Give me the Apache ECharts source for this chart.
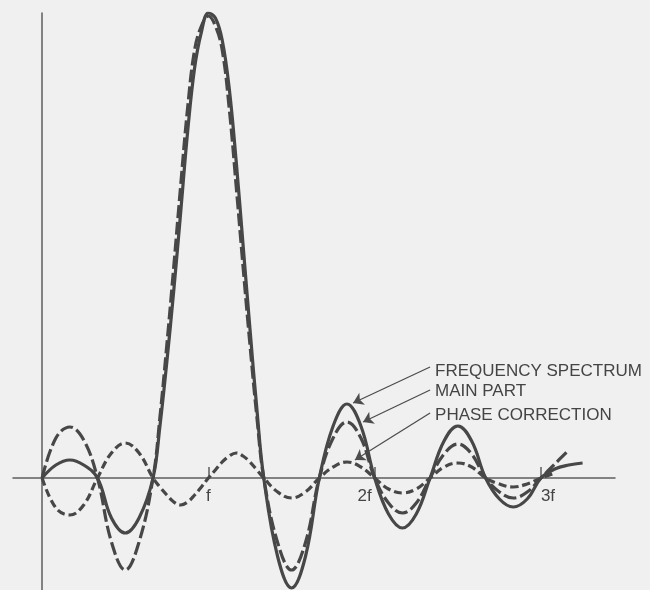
<!DOCTYPE html>
<html>
<head>
<meta charset="utf-8">
<style>
  html, body { margin: 0; padding: 0; background: #f0f0f0; }
  #chart { width: 650px; height: 590px; }
</style>
<script src="https://cdn.jsdelivr.net/npm/echarts@6/dist/echarts.min.js"></script>
</head>
<body>
<div id="chart"></div>
<script>
// frequency in units of f
var tValues = [0, 0.083, 0.167, 0.25, 0.333, 0.417, 0.5, 0.583, 0.667,
  0.708, 0.75, 0.792, 0.833, 0.875, 0.917, 0.958, 1, 1.042, 1.083, 1.125, 1.167, 1.208, 1.25, 1.292, 1.333,
  1.417, 1.5, 1.583, 1.667, 1.75, 1.833, 1.917, 2, 2.083, 2.167, 2.25, 2.333,
  2.417, 2.5, 2.583, 2.667, 2.75, 2.833, 2.917, 3, 3.083, 3.167, 3.25]

var frequencySpectrum = [0, 13, 18, 13, 0, -40, -55, -40, 0,
  51, 116, 188, 265, 346, 410, 446, 465, 460, 438, 390, 317, 234, 149, 68, 0,
  -79, -110, -79, 0, 52, 74, 52, 0, -36, -50, -36, 0,
  37, 52, 37, 0, -21, -29, -21, 0, 9, 13, 15]

var mainPart = [0, 40, 51, 38, 0, -64, -92, -64, 0,
  60, 133, 212, 292, 370, 428, 452, 462, 452, 428, 370, 292, 212, 133, 60, 0,
  -65, -92, -65, 0, 40, 56, 40, 0, -25, -35, -25, 0,
  24, 34, 24, 0, -14, -20, -14, 0, 14, 28, null]

var phaseCorrection = [0, -30, -37, -27, 0, 25, 35, 25, 0,
  -9, -17, -24, -27, -24, -17, -9, 0, 8, 16, 22, 25, 22, 16, 8, 0,
  -14, -20, -14, 0, 11, 16, 11, 0, -11, -15, -11, 0,
  11, 15, 11, 0, -6, -9, -6, 0, 5, null, null]

var tickValues = [1, 2, 3]
var tickLabels = ['f', '2f', '3f']
var tickLabelShift = [0, -10, 7]

// annotations: text anchor and leader line (from, to) in data coords
var legendNames = ['FREQUENCY SPECTRUM', 'MAIN PART', 'PHASE CORRECTION']
var legendAnchor = [[2.363, 107], [2.363, 87], [2.363, 63]]
var leaderFrom = [[2.333, 111], [2.333, 88], [2.333, 65]]
var leaderTo = [[1.870, 75], [1.930, 56], [1.881, 18]]

function pairs(values) {
  var out = []
  for (var i = 0; i < tValues.length; i++) {
    if (values[i] !== null) out.push([tValues[i], values[i]])
  }
  return out
}

var ink = '#474747'
var textInk = '#444'
var chartDom = document.getElementById('chart')
var myChart = echarts.init(chartDom)
var option

option = {
  backgroundColor: '#f0f0f0',
  animation: false,
  grid: { left: 13, right: 35, top: 13, bottom: 0, outerBoundsMode: 'none', containLabel: false },
  xAxis: {
    type: 'value',
    min: -0.175,
    max: 3.445,
    splitLine: { show: false },
    axisLine: { onZero: true, lineStyle: { color: '#5e5e5e', width: 1.5 } },
    axisTick: {
      show: true,
      customValues: tickValues,
      inside: true,
      length: 11,
      lineStyle: { color: '#5e5e5e', width: 1.5 },
    },
    axisLabel: { show: false },
  },
  yAxis: {
    type: 'value',
    min: -112,
    max: 465,
    splitLine: { show: false },
    axisLabel: { show: false },
    axisTick: { show: false },
    axisLine: { show: true, onZero: true, lineStyle: { color: '#5e5e5e', width: 1.5 } },
  },
  series: [
    {
      name: 'main part',
      type: 'line',
      smooth: 0.4,
      symbol: 'none',
      lineStyle: { color: ink, width: 3.2, type: [13, 4] },
      data: pairs(mainPart),
    },
    {
      name: 'phase correction',
      type: 'line',
      smooth: 0.4,
      symbol: 'none',
      lineStyle: { color: ink, width: 3.2, type: [8, 4] },
      data: pairs(phaseCorrection),
    },
    {
      name: 'frequency spectrum',
      type: 'line',
      smooth: 0.4,
      symbol: 'none',
      lineStyle: { color: ink, width: 3.2 },
      data: pairs(frequencySpectrum),
      markLine: {
        silent: true,
        symbol: ['none', 'arrow'],
        symbolSize: 10,
        label: { show: false },
        lineStyle: { color: '#4d4d4d', width: 1.3, type: 'solid' },
        data: leaderFrom.map(function (p, i) {
          return [{ coord: p }, { coord: leaderTo[i] }]
        }),
      },
    },
  ],
}

option && myChart.setOption(option)

var texts = legendNames.map(function (name, i) {
  var p = myChart.convertToPixel({ gridIndex: 0 }, legendAnchor[i])
  return {
    type: 'text',
    x: p[0],
    y: p[1],
    style: {
      text: name,
      fill: textInk,
      font: '17px "Liberation Sans"',
      textVerticalAlign: 'middle',
    },
  }
})
tickValues.forEach(function (v, i) {
  var p = myChart.convertToPixel({ gridIndex: 0 }, [v, 0])
  texts.push({
    type: 'text',
    x: p[0] + tickLabelShift[i],
    y: p[1] + 10,
    style: {
      text: tickLabels[i],
      fill: textInk,
      font: '17px "Liberation Sans"',
      textAlign: 'center',
      textVerticalAlign: 'top',
    },
  })
})
myChart.setOption({ graphic: texts })
</script>
</body>
</html>
